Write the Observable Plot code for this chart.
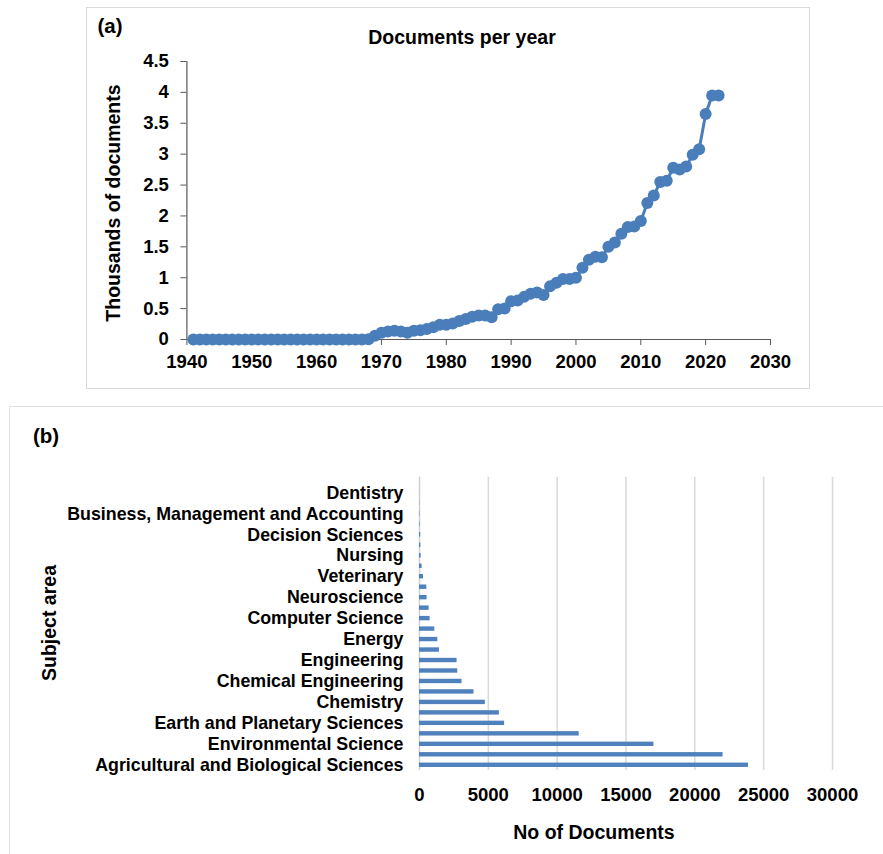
<!DOCTYPE html>
<html>
<head>
<meta charset="utf-8">
<script src="https://cdn.jsdelivr.net/npm/d3@7"></script>
<script src="https://cdn.jsdelivr.net/npm/@observablehq/plot@0.6"></script>
<style>
  html, body { margin: 0; padding: 0; background: #fff; overflow: hidden; }
  #page { position: relative; width: 883px; height: 854px; font-family: "Liberation Sans", Arial, sans-serif; font-weight: bold; color: #000; }
  .abs { position: absolute; }
  .lbl { position: absolute; transform: translate(-50%, -50%); white-space: nowrap; font-weight: bold; }
  .box { position: absolute; box-sizing: border-box; border: 1.5px solid #dadada; pointer-events: none; z-index: 5; }
</style>
</head>
<body>
<div id="page">
  <div id="plotA" class="abs" style="left:0;top:0;"></div>
  <div id="plotB" class="abs" style="left:0;top:406px;"></div>
  <div class="box" style="left:86px;top:7px;width:724px;height:382px;"></div>
  <div class="box" style="left:9px;top:406px;width:900px;height:460px;border-color:#e2e2e2;"></div>
  <div class="lbl" style="left:110px;top:26px;font-size:20.5px;">(a)</div>
  <div class="lbl" style="left:462px;top:37px;font-size:19.5px;">Documents per year</div>
  <div class="lbl" style="left:113px;top:203px;font-size:19.5px;transform:translate(-50%,-50%) rotate(-90deg);">Thousands of documents</div>
  <div class="lbl" style="left:46px;top:436px;font-size:20.5px;">(b)</div>
  <div class="lbl" style="left:49px;top:623px;font-size:19.5px;transform:translate(-50%,-50%) rotate(-90deg);">Subject area</div>
  <div class="lbl" style="left:594px;top:832px;font-size:19.5px;">No of Documents</div>
</div>
<script>
// ---------- Panel (a) data: documents per year (thousands) ----------
const years = [
  1941,1942,1943,1944,1945,1946,1947,1948,1949,1950,
  1951,1952,1953,1954,1955,1956,1957,1958,1959,1960,
  1961,1962,1963,1964,1965,1966,1967,1968,1969,1970,
  1971,1972,1973,1974,1975,1976,1977,1978,1979,1980,
  1981,1982,1983,1984,1985,1986,1987,1988,1989,1990,
  1991,1992,1993,1994,1995,1996,1997,1998,1999,2000,
  2001,2002,2003,2004,2005,2006,2007,2008,2009,2010,
  2011,2012,2013,2014,2015,2016,2017,2018,2019,2020,
  2021,2022
];
const docsThousands = [
  0,0,0,0,0,0,0,0,0,0,
  0,0,0,0,0,0,0,0,0,0,
  0,0,0,0,0,0,0,0.005,0.06,0.11,
  0.13,0.14,0.13,0.11,0.14,0.15,0.17,0.2,0.24,0.24,
  0.26,0.3,0.33,0.37,0.39,0.39,0.36,0.49,0.5,0.62,
  0.63,0.69,0.74,0.76,0.72,0.86,0.92,0.98,0.98,1.0,
  1.16,1.29,1.34,1.33,1.5,1.57,1.71,1.82,1.83,1.92,
  2.21,2.33,2.55,2.57,2.78,2.75,2.8,2.99,3.08,3.65,
  3.95,3.95
];
const xTicksA = [1940,1950,1960,1970,1980,1990,2000,2010,2020,2030];
const yTicksA = [0,0.5,1,1.5,2,2.5,3,3.5,4,4.5];

// ---------- Panel (b) data: documents by subject area ----------
// ordered bottom (largest) to top
const subjects = [
  "Agricultural and Biological Sciences",
  "Biochemistry, Genetics and Molecular Biology",
  "Environmental Science",
  "Medicine",
  "Earth and Planetary Sciences",
  "Immunology and Microbiology",
  "Chemistry",
  "Social Sciences",
  "Chemical Engineering",
  "Pharmacology, Toxicology and Pharmaceutics",
  "Engineering",
  "Physics and Astronomy",
  "Energy",
  "Materials Science",
  "Computer Science",
  "Multidisciplinary",
  "Neuroscience",
  "Mathematics",
  "Veterinary",
  "Arts and Humanities",
  "Nursing",
  "Economics, Econometrics and Finance",
  "Decision Sciences",
  "Health Professions",
  "Business, Management and Accounting",
  "Psychology",
  "Dentistry",
  "Undefined"
];
const subjectDocs = [
  23900,22050,17030,11600,6180,5800,4780,3960,3090,2780,
  2730,1450,1330,1110,770,700,550,530,290,190,
  120,100,90,40,30,12,5,2
];
const labeledSubjects = [
  "Agricultural and Biological Sciences","Environmental Science","Earth and Planetary Sciences",
  "Chemistry","Chemical Engineering","Engineering","Energy","Computer Science","Neuroscience",
  "Veterinary","Nursing","Decision Sciences","Business, Management and Accounting","Dentistry"
];
const xTicksB = [0,5000,10000,15000,20000,25000,30000];
const gridB = [5000,10000,15000,20000,25000,30000];

const blue = "#4a7ebb";
const fontFam = "'Liberation Sans', Arial, sans-serif";

const lineData = years.map((y, i) => ({year: y, v: docsThousands[i]}));

const plotA = Plot.plot({
  width: 883,
  height: 400,
  marginLeft: 186.4,
  marginRight: 113,
  marginTop: 61,
  marginBottom: 61,
  style: {fontFamily: fontFam, fontWeight: "bold", fontSize: "18.5px", background: "transparent", color: "#000", overflow: "visible"},
  x: {domain: [1940, 2030], label: null},
  y: {domain: [0, 4.5], label: null},
  marks: [
    Plot.axisX({ticks: xTicksA, tickFormat: d => String(d), tickSize: 6, tickPadding: 9, stroke: "#595959", label: null}),
    Plot.axisY({ticks: yTicksA, tickFormat: d => String(d), tickSize: 6, tickPadding: 12, stroke: "#595959", label: null}),
    Plot.ruleX([1940], {stroke: "#595959", strokeWidth: 1.2}),
    Plot.ruleY([0], {stroke: "#595959", strokeWidth: 1.2}),
    Plot.line(lineData, {x: "year", y: "v", stroke: blue, strokeWidth: 3}),
    Plot.dot(lineData, {x: "year", y: "v", r: 6, fill: blue, stroke: "none"})
  ]
});
document.getElementById("plotA").appendChild(plotA);

const barData = subjects.map((s, i) => ({subject: s, n: subjectDocs[i]}));
const yDomain = subjects.slice().reverse();

const plotB = Plot.plot({
  width: 883,
  height: 448,
  marginLeft: 419,
  marginRight: 51,
  marginTop: 70.7,
  marginBottom: 84,
  style: {fontFamily: fontFam, fontWeight: "bold", fontSize: "18.5px", background: "transparent", color: "#000", overflow: "visible"},
  x: {domain: [0, 30000], label: null},
  y: {domain: yDomain, paddingInner: 0.58, paddingOuter: 0.29, round: false, label: null},
  marks: [
    Plot.ruleX(gridB, {stroke: "#d9d9d9", strokeWidth: 1.5}),
    Plot.ruleX([0], {stroke: "#d0d0d0", strokeWidth: 1.5}),
    Plot.barX(barData, {y: "subject", x: "n", fill: "#4f81bd"}),
    Plot.axisX({ticks: xTicksB, tickFormat: d => String(d), tickSize: 0, tickPadding: 17, label: null}),
    Plot.axisY({ticks: labeledSubjects, tickSize: 0, tickPadding: 16, fontSize: 17.8, label: null})
  ]
});
document.getElementById("plotB").appendChild(plotB);
</script>
</body>
</html>
